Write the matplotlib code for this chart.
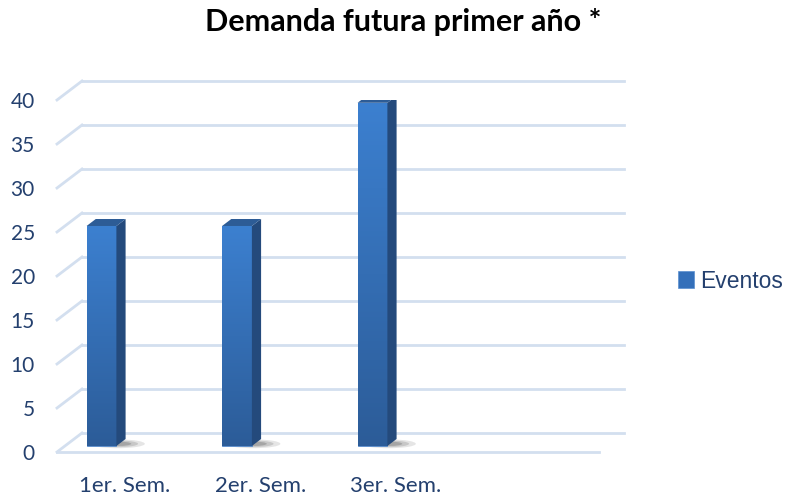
import numpy as np
import matplotlib.pyplot as plt
from matplotlib.patches import Polygon, Patch, Ellipse

categorias = ["1er. Sem.", "2er. Sem.", "3er. Sem.", ""]
eventos = [25, 25, 39]
y_ticks = [0, 5, 10, 15, 20, 25, 30, 35, 40]
titulo = "Demanda futura primer año *"
serie = "Eventos"

# estilo
txt_color = "#24406E"
grid_color = "#D3DFEF"
cara_top = "#3C80D0"
cara_bot = "#2C5C98"
lado = "#244A7C"
techo = "#2D5C96"

# perspectiva (en unidades de datos)
dx, dy = 0.1845, 2.16       # profundidad de la pared del fondo
f0, f1 = 0.316, 0.684       # fraccion de profundidad donde va la barra
off, ancho = -0.23, 0.22    # posicion de la serie dentro de la categoria

fig = plt.figure(figsize=(7.86, 4.97), dpi=100)
ax = fig.add_axes([57 / 786, 1 - 452 / 497, 542 / 786, 352 / 497])
ax.set_xlim(-0.5, 3.5)
ax.set_ylim(0, 40)
for s in ax.spines.values():
    s.set_visible(False)

# pared lateral, fondo y piso
x0, x1 = -0.5, 3.5
for v in y_ticks:
    ax.plot([x0 + dx, x1 + dx], [v + dy, v + dy], color=grid_color, lw=2, clip_on=False, zorder=1)
    ax.plot([x0, x0 + dx], [v, v + dy], color=grid_color, lw=2, clip_on=False, zorder=1)
ax.plot([x0, x1], [0, 0], color=grid_color, lw=2, clip_on=False, zorder=1)

grad = np.linspace(0, 1, 256).reshape(-1, 1)
cmap = plt.matplotlib.colors.LinearSegmentedColormap.from_list("g", [cara_bot, cara_top])

for i, val in enumerate(eventos):
    xl = i + off - ancho / 2 + dx * f0
    xr = xl + ancho
    yb = dy * f0
    yt = yb + val
    ddx = dx * (f1 - f0)
    ddy = dy * (f1 - f0)

    # sombra
    for k, a in enumerate([0.12, 0.16, 0.22]):
        e = Ellipse((xr + 0.01, yb + 0.25), 0.40 - k * 0.1, 1.0 - k * 0.25,
                    color="#303030", alpha=a, lw=0, zorder=2, clip_on=False)
        ax.add_patch(e)

    bar = ax.bar(xl, val, width=ancho, bottom=yb, align="edge", color=cara_bot,
                 edgecolor="#5B8FD0", lw=0.6, zorder=3)[0]
    img = ax.imshow(grad, extent=[xl, xr, yb, yt], origin="lower", cmap=cmap,
                    aspect="auto", zorder=3.5)
    img.set_clip_path(bar)

    ax.add_patch(Polygon([[xr, yb], [xr + ddx, yb + ddy], [xr + ddx, yt + ddy], [xr, yt]],
                         closed=True, color=lado, lw=0, zorder=3.6))
    ax.add_patch(Polygon([[xl, yt], [xr, yt], [xr + ddx, yt + ddy], [xl + ddx, yt + ddy]],
                         closed=True, color=techo, lw=0, zorder=3.6))

ax.set_aspect("auto")
ax.set_yticks(y_ticks)
ax.set_xticks(range(len(categorias)))
ax.set_xticklabels(categorias)
ax.tick_params(axis="both", length=0, colors=txt_color, labelsize=15)
ax.tick_params(axis="x", labelsize=16, pad=17)
ax.tick_params(axis="y", pad=16)
for lab in ax.get_xticklabels() + ax.get_yticklabels():
    lab.set_fontfamily("Lato")

fig.text(403 / 786, 1 - 22 / 497, titulo, ha="center", va="center",
         fontsize=22, fontweight="bold", fontfamily="Lato", color="black")

fig.legend(handles=[Patch(facecolor="#3470BA", edgecolor="#5B8FD0", lw=0.5)], labels=[serie],
           loc="center left", bbox_to_anchor=(678 / 786, 1 - 281 / 497), frameon=False,
           handlelength=0.7, handleheight=0.7, handletextpad=0.25, borderaxespad=0,
           borderpad=0, prop={"family": "Liberation Sans", "size": 16.5}, labelcolor=txt_color)

fig.savefig("out.png", dpi=100)
